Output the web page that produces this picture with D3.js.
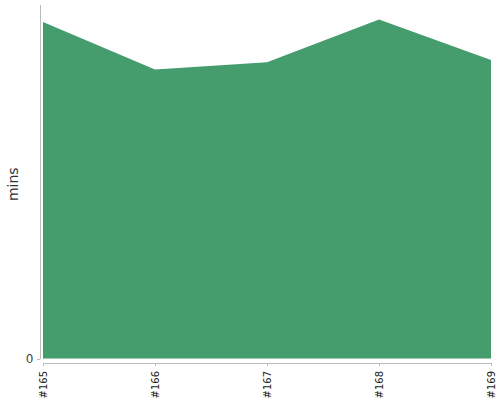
<!DOCTYPE html>
<html>
<head>
<meta charset="utf-8">
<script src="https://cdn.jsdelivr.net/npm/d3@7"></script>
<style>
  body { margin: 0; background: #fff; }
  .axis path, .axis line { stroke: #bbb; fill: none; shape-rendering: crispEdges; }
  .axis text { font-family: "DejaVu Sans", sans-serif; }
</style>
</head>
<body>
<div id="chart"></div>
<script>
var builds = ["#165", "#166", "#167", "#168", "#169"];
var mins = [94.9, 81.5, 83.6, 95.6, 84.2];
var yTicks = [0];

var width = 500, height = 400;
var margin = {top: 4, right: 9, bottom: 41.5, left: 43};

var svg = d3.select("#chart").append("svg")
  .attr("width", width)
  .attr("height", height);

var x = d3.scalePoint()
  .domain(builds)
  .range([margin.left, width - margin.right]);

var y = d3.scaleLinear()
  .domain([0, 100])
  .range([height - margin.bottom, margin.top]);

var area = d3.area()
  .x(function(d, i) { return x(builds[i]); })
  .y0(y(0))
  .y1(function(d) { return y(d); });

svg.append("path")
  .datum(mins)
  .attr("fill", "#459c6d")
  .attr("d", area);

// y axis, pulled a few px left of the plot
var yAxis = svg.append("g")
  .attr("class", "axis")
  .attr("transform", "translate(" + (margin.left - 3.5) + ",0)")
  .call(d3.axisLeft(y).tickValues(yTicks).tickSize(3).tickSizeOuter(0));
yAxis.selectAll("text")
  .attr("fill", "#444")
  .style("font-size", "12px");

// x axis, pushed a few px below the plot
var xAxis = svg.append("g")
  .attr("class", "axis")
  .attr("transform", "translate(0," + (y(0) + 4.5) + ")")
  .call(d3.axisBottom(x).tickSize(3).tickSizeOuter(0));
xAxis.selectAll("text")
  .attr("fill", "#222")
  .style("font-size", "10px")
  .attr("transform", "rotate(-90)")
  .attr("text-anchor", "end")
  .attr("x", -8)
  .attr("y", 0)
  .attr("dy", "0.35em");

svg.append("text")
  .attr("transform", "translate(18," + (y(50) + 3) + ") rotate(-90)")
  .attr("text-anchor", "middle")
  .attr("fill", "#333")
  .style("font-family", "DejaVu Sans, sans-serif")
  .style("font-size", "14px")
  .text("mins");
</script>
</body>
</html>
